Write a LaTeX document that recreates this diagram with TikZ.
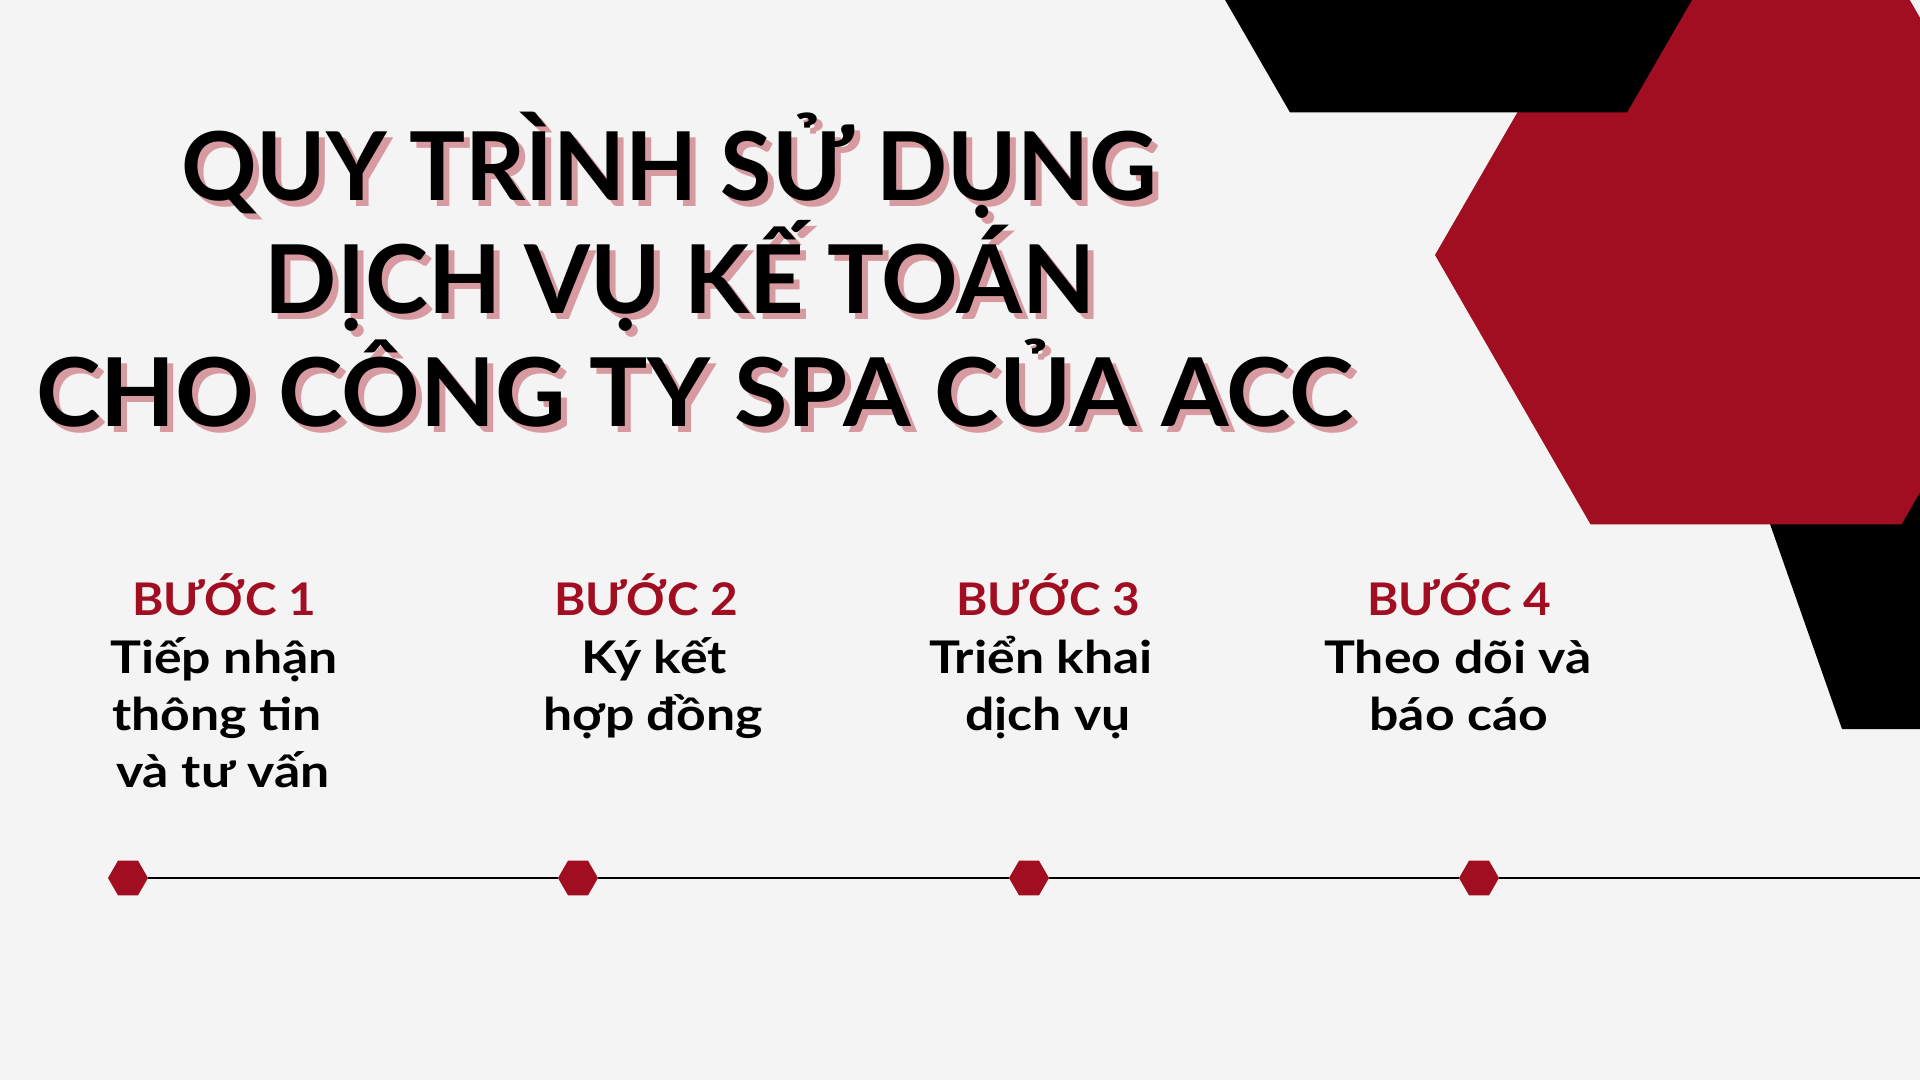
\documentclass[tikz,border=0pt]{standalone}
\usepackage{fontspec}
\setmainfont{Lato}
\newfontfamily\descfont{Lato}[FakeStretch=1.15]
\newfontfamily\headfont{Lato}[FakeStretch=1.06]
\newfontfamily\titlewide{Lato}[FakeStretch=1.025]
\newfontfamily\titlenarrow{Lato}[FakeStretch=0.985]
\usetikzlibrary{shapes.geometric}
\definecolor{bg}{HTML}{F4F4F4}
\definecolor{accred}{HTML}{A10E22}
\definecolor{shadowpink}{HTML}{D69AA0}
\tikzset{
  titletext/.style={anchor=base, inner sep=0pt, font=\fontsize{95}{113}\selectfont\bfseries},
  stephead/.style={anchor=base, inner sep=0pt, text=accred, font=\headfont\fontsize{45}{57}\selectfont\bfseries},
  stepline/.style={anchor=base, inner sep=0pt, text=black, font=\descfont\fontsize{45}{57}\selectfont\bfseries},
  hexdot/.style={regular polygon, regular polygon sides=6, fill=accred, draw=none, inner sep=0pt, minimum size=40pt},
  timeline/.style={draw=black, line width=2.3pt}
}
\begin{document}
\begin{tikzpicture}[x=1pt,y=-1pt]
\fill[bg] (0,0) rectangle (1920,1080);
\useasboundingbox (0,0) rectangle (1920,1080);
% decorative shapes
\fill[black] (1744,450) -- (1842,729) -- (1920,729) -- (1920,450) -- cycle;
\fill[accred] (2057,255) -- (1901.5,524.3) -- (1590.5,524.3) -- (1435,255) -- (1590.5,-14.3) -- (1901.5,-14.3) -- cycle;
\fill[black] (1795.5,-179.4) -- (1627,112.4) -- (1290,112.4) -- (1121.5,-179.4) -- (1290,-471.2) -- (1627,-471.2) -- cycle;
% title
\node[titletext, text=shadowpink, font=\titlenarrow\fontsize{95}{113}\selectfont\bfseries] (t1s) at (675,206) {QUY TRÌNH SỬ DỤNG};
\node[titletext, font=\titlenarrow\fontsize{95}{113}\selectfont\bfseries] (t1) at (669,200) {QUY TRÌNH SỬ DỤNG};
\node[titletext, text=shadowpink] (t2s) at (686,319) {DỊCH VỤ KẾ TOÁN};
\node[titletext] (t2) at (680,313) {DỊCH VỤ KẾ TOÁN};
\node[titletext, text=shadowpink, font=\titlewide\fontsize{95}{113}\selectfont\bfseries] (t3s) at (701,432) {CHO CÔNG TY SPA CỦA ACC};
\node[titletext, font=\titlewide\fontsize{95}{113}\selectfont\bfseries] (t3) at (695,426) {CHO CÔNG TY SPA CỦA ACC};
% steps
\node[stephead] (s1h) at (224,615) {BƯỚC 1};
\node[stepline] (s1a) at (224,673) {Tiếp nhận};
\node[stepline] (s1b) at (217,730) {thông tin};
\node[stepline] (s1c) at (223,787) {và tư vấn};
\node[stephead] (s2h) at (646,615) {BƯỚC 2};
\node[stepline] (s2a) at (654,673) {Ký kết};
\node[stepline] (s2b) at (653,730) {hợp đồng};
\node[stephead] (s3h) at (1048,615) {BƯỚC 3};
\node[stepline] (s3a) at (1041,673) {Triển khai};
\node[stepline] (s3b) at (1048,730) {dịch vụ};
\node[stephead] (s4h) at (1459,615) {BƯỚC 4};
\node[stepline] (s4a) at (1458,673) {Theo dõi và};
\node[stepline] (s4b) at (1459,730) {báo cáo};
% timeline
\node[hexdot] (h1) at (128,878) {};
\node[hexdot] (h2) at (578,878) {};
\node[hexdot] (h3) at (1029,878) {};
\node[hexdot] (h4) at (1479,878) {};
\coordinate (tend) at (1920,878);
\draw[timeline] (h1) -- (h2) -- (h3) -- (h4) -- (tend);
\end{tikzpicture}
\end{document}
